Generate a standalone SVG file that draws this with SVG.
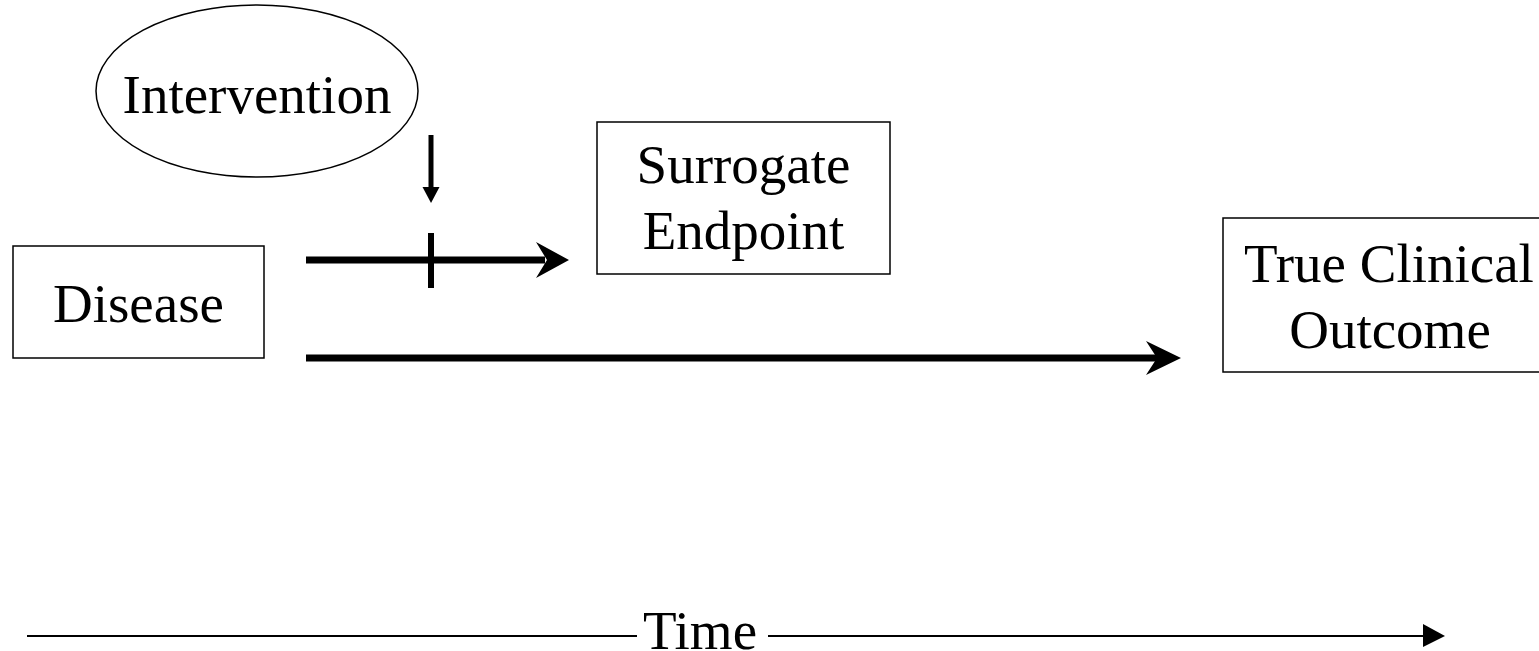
<svg xmlns="http://www.w3.org/2000/svg" width="1539" height="651" viewBox="0 0 1539 651">
  <style>
    .box { fill: #ffffff; stroke: #000000; stroke-width: 1.5; }
    .label { font-family: "Liberation Serif", "Times New Roman", serif; font-size: 55px; fill: #000000; text-anchor: middle; }
    .thick { stroke: #000000; stroke-width: 7; fill: none; }
    .thin { stroke: #000000; stroke-width: 2; fill: none; }
    .head { fill: #000000; stroke: none; }
  </style>
  <rect width="1539" height="651" fill="#ffffff"/>

  <!-- Intervention -->
  <g id="intervention">
    <ellipse class="box" cx="257" cy="91" rx="161" ry="86"/>
    <text class="label" x="257" y="113">Intervention</text>
  </g>

  <!-- Disease -->
  <g id="disease">
    <rect class="box" x="13" y="246" width="251" height="112"/>
    <text class="label" x="138.5" y="322">Disease</text>
  </g>

  <!-- Surrogate endpoint -->
  <g id="surrogate">
    <rect class="box" x="597" y="122" width="293" height="152"/>
    <text class="label" x="743.5" y="183">Surrogate</text>
    <text class="label" x="743.5" y="249">Endpoint</text>
  </g>

  <!-- True clinical outcome (box runs past the right edge) -->
  <g id="outcome">
    <rect class="box" x="1223" y="218" width="340" height="154"/>
    <text class="label" x="1389" y="282">True Clinical</text>
    <text class="label" x="1390" y="348">Outcome</text>
  </g>

  <!-- Connectors -->
  <g id="connectors">
    <!-- intervention acting on the pathway -->
    <line x1="431" y1="135" x2="431" y2="190" stroke="#000" stroke-width="5"/>
    <polygon class="head" points="422.5,187 439.5,187 431,203"/>

    <!-- disease to surrogate endpoint, blocked -->
    <line class="thick" x1="306" y1="260" x2="545" y2="260"/>
    <polygon class="head" points="536,242 569,260 536,278 547,260"/>
    <line x1="431" y1="233" x2="431" y2="288" stroke="#000" stroke-width="6"/>

    <!-- disease to true clinical outcome -->
    <line class="thick" x1="306" y1="358" x2="1160" y2="358"/>
    <polygon class="head" points="1146,341 1181,358 1146,375 1157,358"/>
  </g>

  <!-- Time axis -->
  <g id="time-axis">
    <line class="thin" x1="27" y1="636" x2="637" y2="636"/>
    <line class="thin" x1="768" y1="636" x2="1425" y2="636"/>
    <polygon class="head" points="1423,624 1445,636 1423,647"/>
    <text class="label" x="700" y="649" font-size="56">Time</text>
  </g>
</svg>
